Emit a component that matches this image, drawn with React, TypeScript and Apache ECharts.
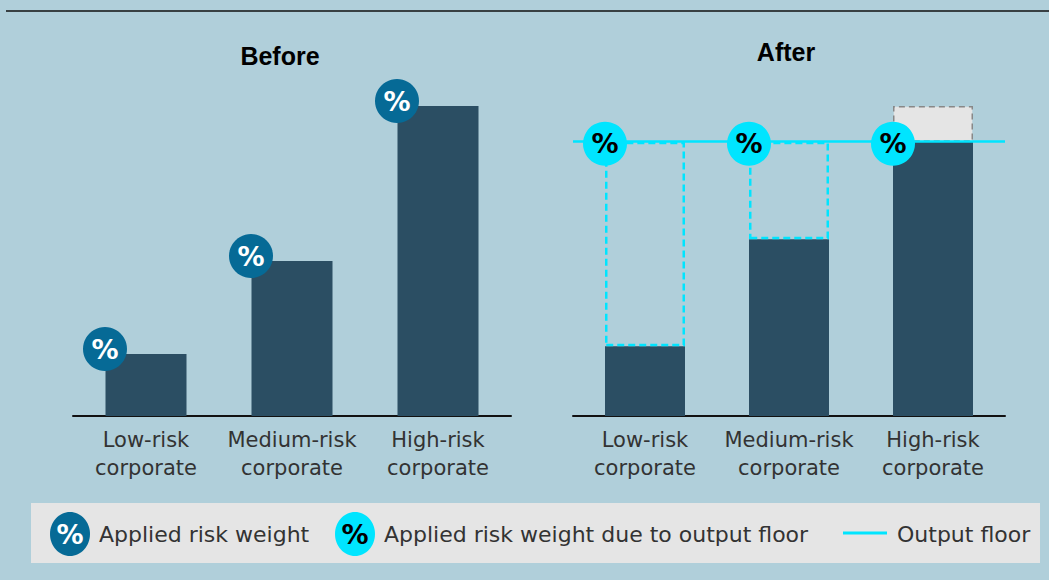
import React, { useEffect, useRef } from "react";
import * as echarts from "echarts";

const categories = ["Low-risk\ncorporate", "Medium-risk\ncorporate", "High-risk\ncorporate"];
const beforeValues = [20, 50, 100];
const afterValues = [22.5, 57, 100];
const outputFloor = 88.5;
const panelTitles = ["Before", "After"];
const legendLabels = ["Applied risk weight", "Applied risk weight due to output floor", "Output floor"];

const BG = "#B0CFDA";
const BAR = "#2B4E63";
const DARKBLUE = "#066A96";
const CYAN = "#00E5FF";
const FONT = "DejaVu Sans";

export default function App() {
  const ref = useRef<HTMLDivElement>(null);
  useEffect(() => {
    if (!ref.current) return;
    const chart = echarts.init(ref.current, null, { renderer: "svg" });
    const afterDark = afterValues.map((v) => Math.min(v, outputFloor));
    const afterGap = afterValues.map((v) => Math.abs(outputFloor - v));
    const gapData = afterValues.map((v, i) =>
      v < outputFloor
        ? {
            value: afterGap[i],
            itemStyle: { color: "rgba(0,0,0,0)", borderColor: CYAN, borderWidth: 2.5, borderType: [7, 4] },
          }
        : {
            value: afterGap[i],
            itemStyle: { color: "#E5E5E5", borderColor: "#888888", borderWidth: 1.5, borderType: [6, 4] },
          }
    );
    const xAxisCommon = {
      type: "category",
      data: categories,
      axisTick: { show: false },
      axisLine: { lineStyle: { color: "#111", width: 2 } },
      axisLabel: { interval: 0, color: "#333", fontFamily: FONT, fontSize: 21, lineHeight: 28, margin: 10 },
    };
    const yAxisCommon = { type: "value", min: 0, max: 110, show: false, splitLine: { show: false } };
    const pctLabel = (color: string) => ({
      show: true,
      formatter: "%",
      position: "inside",
      color,
      fontFamily: FONT,
      fontWeight: "bold",
      fontSize: 27,
    });
    const option = {
      animation: false,
      backgroundColor: BG,
      grid: [
        { left: 73, width: 438, top: 75, height: 341 },
        { left: 573, width: 432, top: 75, height: 341 },
      ],
      xAxis: [
        { ...xAxisCommon, gridIndex: 0 },
        { ...xAxisCommon, gridIndex: 1 },
      ],
      yAxis: [
        { ...yAxisCommon, gridIndex: 0 },
        { ...yAxisCommon, gridIndex: 1 },
      ],
      series: [
        {
          type: "bar",
          xAxisIndex: 0,
          yAxisIndex: 0,
          data: beforeValues,
          barWidth: 81,
          itemStyle: { color: BAR },
        },
        {
          type: "bar",
          xAxisIndex: 1,
          yAxisIndex: 1,
          stack: "after",
          data: afterDark,
          barWidth: 80,
          itemStyle: { color: BAR },
          markLine: {
            silent: true,
            symbol: "none",
            label: { show: false },
            lineStyle: { color: CYAN, width: 2.5, type: "solid" },
            data: [{ yAxis: outputFloor }],
          },
        },
        {
          type: "bar",
          xAxisIndex: 1,
          yAxisIndex: 1,
          stack: "after",
          data: gapData,
          barWidth: 80,
        },
        {
          type: "scatter",
          xAxisIndex: 0,
          yAxisIndex: 0,
          data: beforeValues,
          symbol: "circle",
          symbolSize: 44,
          symbolOffset: [-41, -5],
          itemStyle: { color: DARKBLUE, opacity: 1 },
          label: pctLabel("#fff"),
          z: 5,
        },
        {
          type: "scatter",
          xAxisIndex: 1,
          yAxisIndex: 1,
          data: categories.map(() => outputFloor),
          symbol: "circle",
          symbolSize: 44,
          symbolOffset: [-40, 2],
          itemStyle: { color: CYAN, opacity: 1 },
          label: pctLabel("#000"),
          z: 5,
        },
      ],
      graphic: [
        { type: "line", shape: { x1: 6, y1: 11, x2: 1049, y2: 11 }, style: { stroke: "#111", lineWidth: 1.5 } },
        {
          type: "text",
          x: 280,
          y: 56,
          style: { text: panelTitles[0], font: "bold 25px 'Liberation Sans'", fill: "#000", align: "center", verticalAlign: "middle" },
        },
        {
          type: "text",
          x: 786,
          y: 52,
          style: { text: panelTitles[1], font: "bold 25px 'Liberation Sans'", fill: "#000", align: "center", verticalAlign: "middle" },
        },
        { type: "rect", shape: { x: 31, y: 503, width: 1009, height: 60 }, style: { fill: "#E5E5E5" } },
        { type: "ellipse", shape: { cx: 70, cy: 534, rx: 20, ry: 22 }, style: { fill: DARKBLUE } },
        {
          type: "text",
          x: 70,
          y: 534,
          style: { text: "%", font: `bold 27px '${FONT}'`, fill: "#fff", align: "center", verticalAlign: "middle" },
        },
        {
          type: "text",
          x: 99,
          y: 534,
          style: { text: legendLabels[0], font: `22px '${FONT}'`, fill: "#333", align: "left", verticalAlign: "middle" },
        },
        { type: "ellipse", shape: { cx: 355, cy: 534, rx: 20, ry: 22 }, style: { fill: CYAN } },
        {
          type: "text",
          x: 355,
          y: 534,
          style: { text: "%", font: `bold 27px '${FONT}'`, fill: "#000", align: "center", verticalAlign: "middle" },
        },
        {
          type: "text",
          x: 384,
          y: 534,
          style: { text: legendLabels[1], font: `22px '${FONT}'`, fill: "#333", align: "left", verticalAlign: "middle" },
        },
        { type: "line", shape: { x1: 843, y1: 533, x2: 887, y2: 533 }, style: { stroke: CYAN, lineWidth: 3 } },
        {
          type: "text",
          x: 897,
          y: 534,
          style: { text: legendLabels[2], font: `22px '${FONT}'`, fill: "#333", align: "left", verticalAlign: "middle" },
        },
      ],
    };
    chart.setOption(option as any);
    return () => chart.dispose();
  }, []);
  return <div ref={ref} style={{ position: "fixed", left: 0, top: 0, width: 1049, height: 580 }} />;
}
